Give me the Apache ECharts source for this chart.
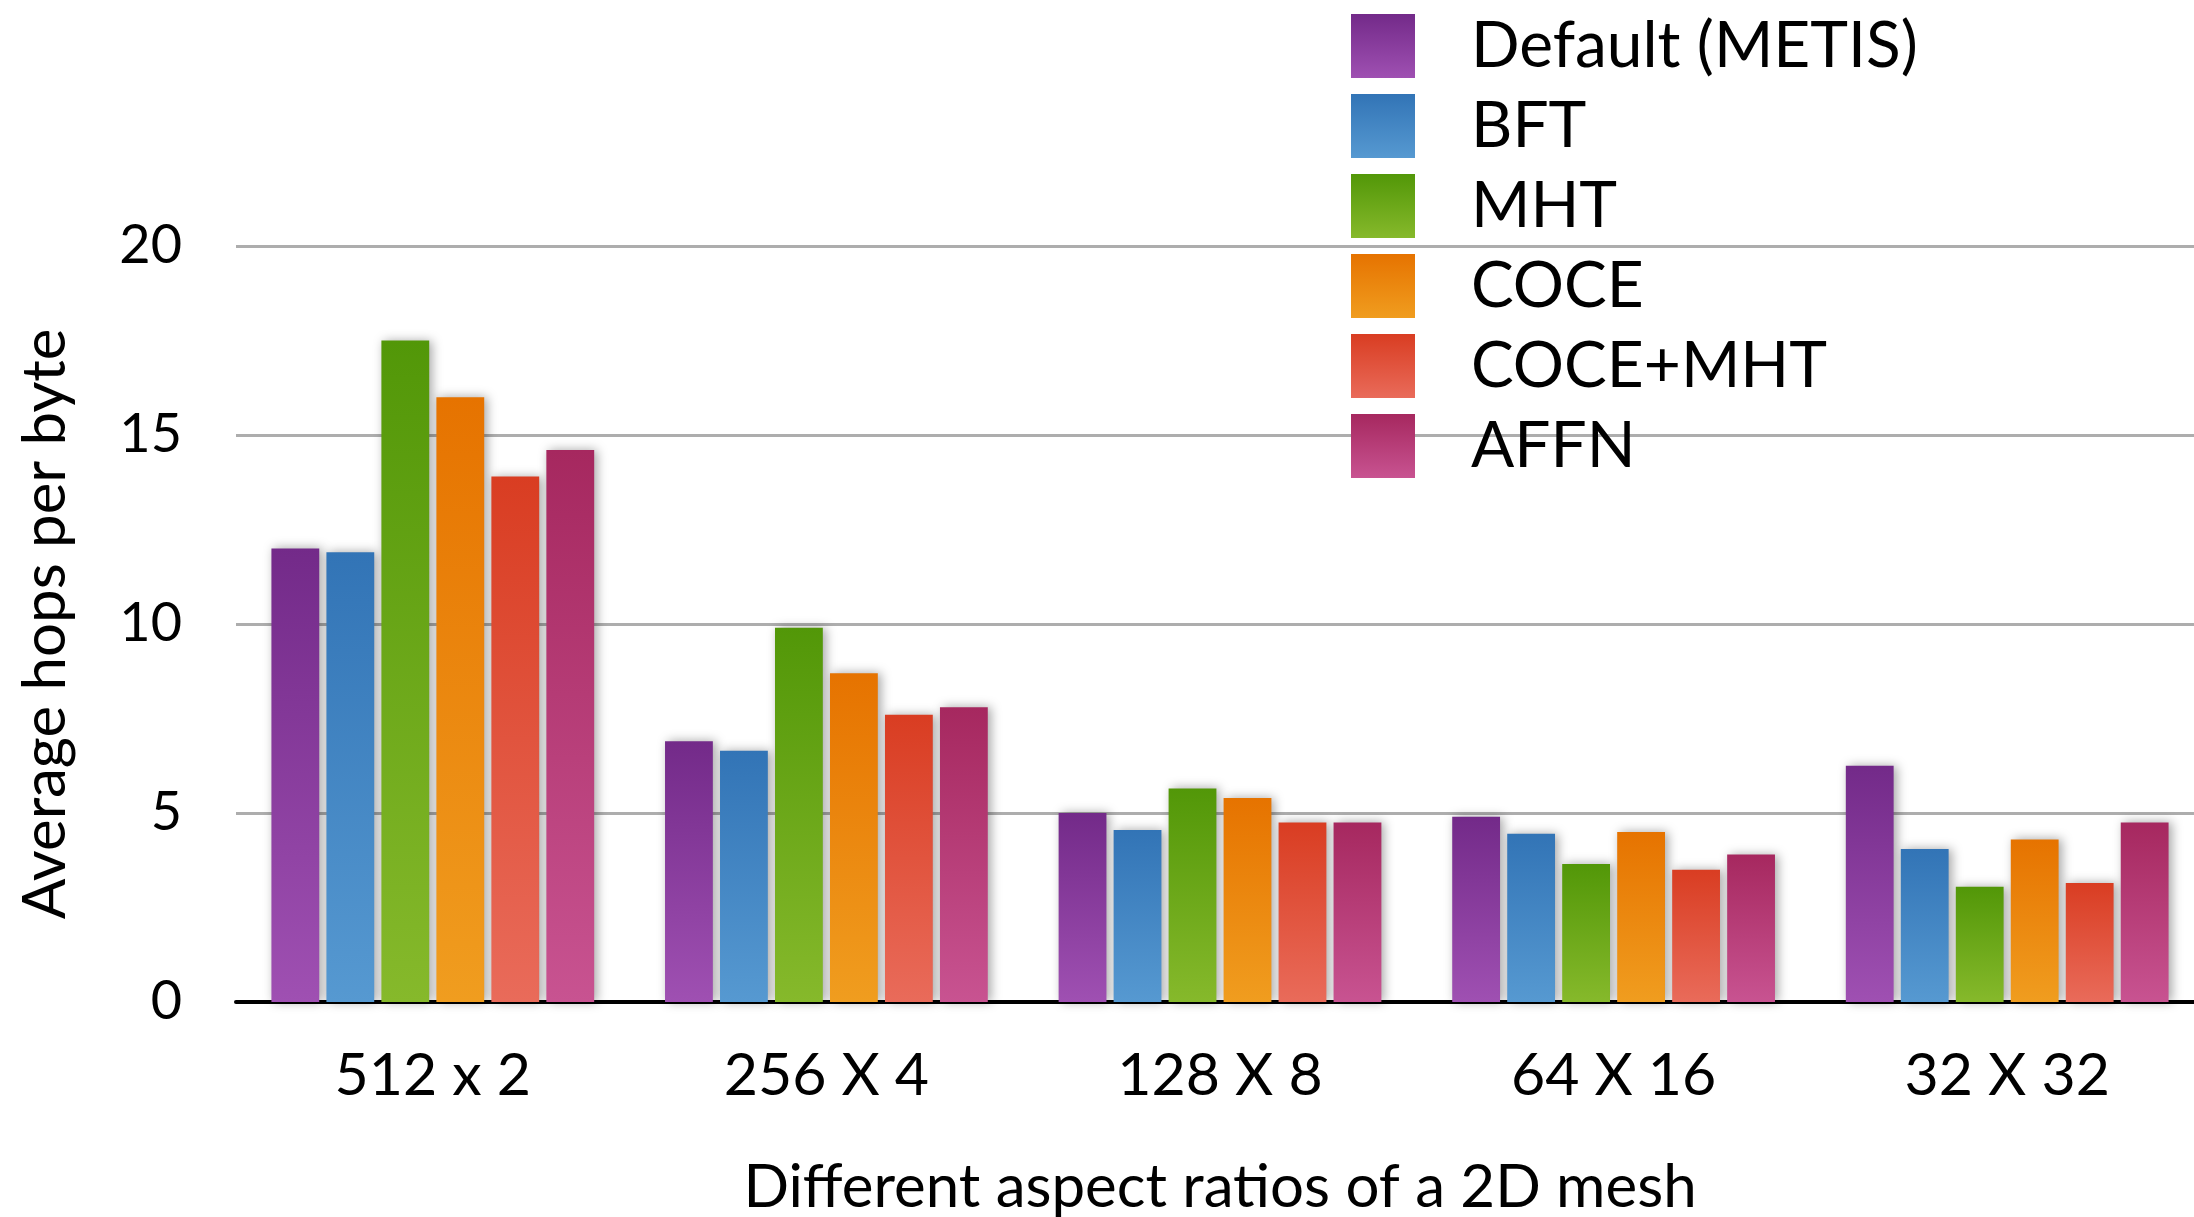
<!DOCTYPE html>
<html>
<head>
<meta charset="utf-8">
<script src="https://cdn.jsdelivr.net/npm/echarts@6/dist/echarts.min.js"></script>
<style>
html,body{margin:0;padding:0;background:#fff;overflow:hidden;}
#main{width:2194px;height:1217px;}
</style>
</head>
<body>
<div id="main"></div>
<script>
const categories = ['512 x 2', '256 X 4', '128 X 8', '64 X 16', '32 X 32'];
const seriesNames = ['Default (METIS)', 'BFT', 'MHT', 'COCE', 'COCE+MHT', 'AFFN'];
const metis   = [12.0, 6.9, 5.0, 4.9, 6.25];
const bft     = [11.9, 6.65, 4.55, 4.45, 4.05];
const mht     = [17.5, 9.9, 5.65, 3.65, 3.05];
const coce    = [16.0, 8.7, 5.4, 4.5, 4.3];
const coceMht = [13.9, 7.6, 4.75, 3.5, 3.15];
const affn    = [14.6, 7.8, 4.75, 3.9, 4.75];
const yTicks = [0, 5, 10, 15, 20];

const seriesData = [metis, bft, mht, coce, coceMht, affn];
const colorPairs = [
  ['#732a89', '#9f50b2'],
  ['#3274b6', '#5699d1'],
  ['#529708', '#86b92b'],
  ['#e67300', '#f09d1f'],
  ['#d93d22', '#e96b5a'],
  ['#a6285f', '#c85391']
];
const FONT = 'Lato, "Open Sans", sans-serif';

const chart = echarts.init(document.getElementById('main'), null, {renderer: 'canvas'});
chart.setOption({
  backgroundColor: '#ffffff',
  animation: false,
  textStyle: {fontFamily: FONT, color: '#000'},
  legend: {
    orient: 'vertical',
    left: 1346,
    top: 9,
    itemWidth: 64,
    itemHeight: 64,
    itemGap: 16,
    icon: 'rect',
    textStyle: {fontSize: 64, color: '#000', fontFamily: FONT, padding: [0, 0, 0, 51]},
    data: seriesNames
  },
  grid: {left: 236, right: -10, top: 246, bottom: 215, containLabel: false, outerBoundsMode: 'none'},
  xAxis: {
    type: 'category',
    data: categories,
    name: 'Different aspect ratios of a 2D mesh',
    nameLocation: 'middle',
    nameGap: 156,
    nameTextStyle: {fontSize: 60, color: '#000', fontFamily: FONT},
    axisLine: {show: true, lineStyle: {color: '#000', width: 4}},
    axisTick: {show: false},
    axisLabel: {fontSize: 59, color: '#000', margin: 44, fontFamily: FONT}
  },
  yAxis: {
    type: 'value',
    min: yTicks[0],
    max: yTicks[yTicks.length - 1],
    interval: 5,
    name: 'Average hops per byte',
    nameLocation: 'middle',
    nameGap: 160,
    nameTextStyle: {fontSize: 60, color: '#000', fontFamily: FONT},
    axisLine: {show: false},
    axisTick: {show: false},
    axisLabel: {fontSize: 54, color: '#000', margin: 54, fontFamily: FONT},
    splitLine: {show: true, lineStyle: {color: '#adadad', width: 3}}
  },
  series: seriesNames.map((name, i) => ({
    name: name,
    type: 'bar',
    data: seriesData[i],
    barGap: '15%',
    barCategoryGap: '18%',
    itemStyle: {
      color: new echarts.graphic.LinearGradient(0, 0, 0, 1, [
        {offset: 0, color: colorPairs[i][0]},
        {offset: 1, color: colorPairs[i][1]}
      ]),
      shadowColor: 'rgba(0,0,0,0.35)',
      shadowBlur: 10,
      shadowOffsetX: 3,
      shadowOffsetY: 0
    }
  }))
});
</script>
</body>
</html>
